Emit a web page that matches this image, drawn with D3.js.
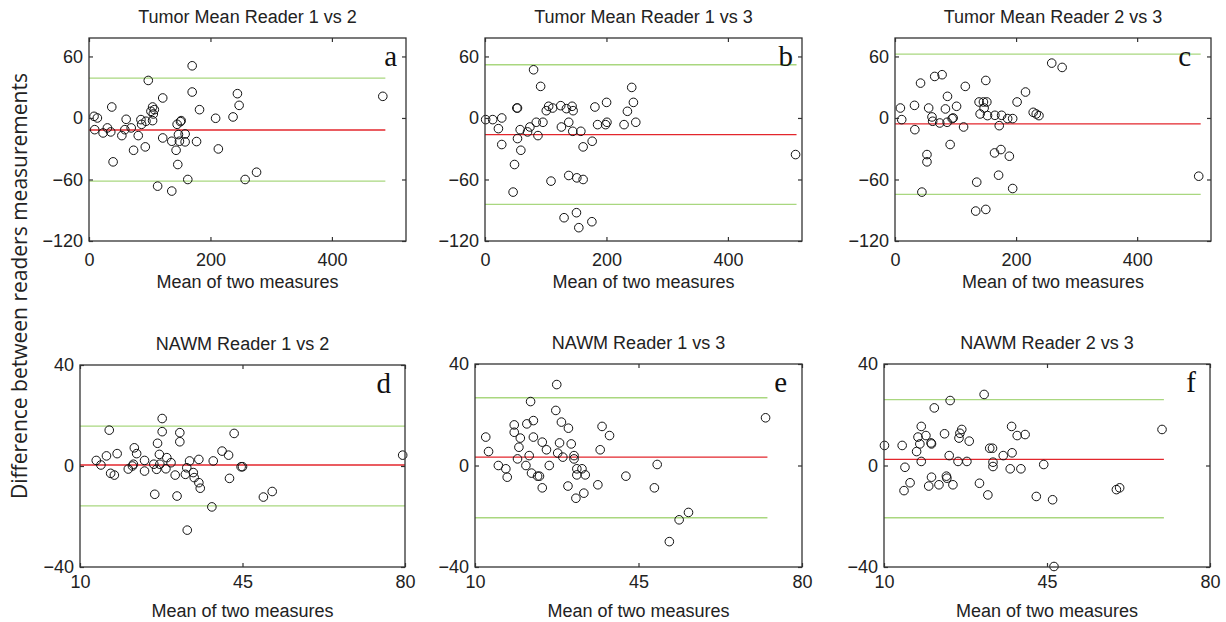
<!DOCTYPE html>
<html>
<head>
<meta charset="utf-8">
<script src="https://cdnjs.cloudflare.com/ajax/libs/d3/7.8.5/d3.min.js"></script>
<style>
  body { margin: 0; background: #fff; }
  text { font-family: Arial, "Liberation Sans", sans-serif; fill: #222; }
  .tick text { font-size: 18px; }
  .title, .xlabel { font-size: 18px; }
  .ylabel { font-family: "Open Sans", sans-serif; font-size: 21px; }
  .letter { font-family: "Liberation Serif", "Times New Roman", serif; font-size: 29px; fill: #111; }
</style>
</head>
<body>
<script>

// titles of the six panels and their letters
var titles = ["Tumor Mean Reader 1 vs 2", "Tumor Mean Reader 1 vs 3", "Tumor Mean Reader 2 vs 3",
              "NAWM Reader 1 vs 2", "NAWM Reader 1 vs 3", "NAWM Reader 2 vs 3"];
var letters = ["a", "b", "c", "d", "e", "f"];

// [mean of two measures, difference]
var tumor12 = [[8.3,1.6],[13.8,0],[9.4,-11.4],[23.2,-14.6],[30.3,-9.7],[35.8,-13.6],[37.5,10.7],[39.7,-42.8],
  [54.1,-17.2],[59,-11.4],[61.2,-1.3],[69.5,-9.7],[73.4,-31.5],[81.1,-17.2],[85.5,-1.6],[86.6,-6.2],
  [92.7,-28.2],[93.8,-3.2],[97.6,36.6],[102,6.5],[104.7,10.7],[105.9,3.9],[107.6,8.1],[104.7,-2.6],
  [113,-66.5],[121.4,19.5],[121.4,-19.5],[136.3,-71.3],[136.3,-22.7],[143.4,-31.5],[146.2,-45.4],
  [145.1,-6.2],[147.3,-16.2],[148.9,-22.7],[150.6,-3.6],[151.7,-2.6],[158.3,-15.6],[158.3,-23.3],
  [162.7,-60],[169.9,50.9],[169.9,25.3],[177.1,-23],[182,8.1],[208.5,-0.3],[213,-30.2],[237.2,1],
  [244.4,23.7],[247.2,12.3],[257.1,-60],[275.9,-52.9],[483.8,21.1]];
var tumor13 = [[1.1,-1.6],[12.7,-1.6],[22.1,-10.4],[27.6,0],[27.6,-25.9],[48.6,-45.4],[46.3,-72.3],
  [52.4,9.7],[53.5,9.7],[53.5,-20.1],[57.9,-11.4],[59,-31.5],[70.1,-13.6],[73.9,-8.8],[80,47],
  [84.4,-4.2],[87.2,-17.2],[91.6,30.8],[95.4,-4.2],[100.9,7.1],[104.8,11.4],[111.4,9.7],[108.7,-61.6],
  [124.7,12],[125.8,-8.8],[130.2,-97.3],[134.1,9.1],[137.9,-56.1],[137.9,-4.2],[143.4,11.4],[145.1,7.1],
  [144.5,-13],[150.6,-92.4],[151.2,-58.4],[154.5,-107],[157.8,-13],[161.6,-28.2],[161.6,-60],
  [176.5,-22.7],[176,-101.2],[181,10.7],[185.4,-6.5],[198.6,-6.5],[200.8,-4.2],[200.2,15.2],
  [229,-6.5],[234.5,6.5],[241.6,29.8],[244.4,15.2],[248.3,-4.2],[511.4,-35.7]];
var tumor23 = [[8.9,9.7],[11.1,-1.6],[32.2,12.3],[32.8,-11.4],[42.2,34],[44.4,-72.3],[52.8,-35.7],
  [52.8,-42.8],[55.6,9.7],[61.1,1],[62.2,-3.2],[65.6,40.5],[73.9,-4.9],[77.8,42.2],[83.3,8.8],
  [86.7,21.1],[86.1,-4.2],[91.1,-25.9],[94.4,-0.6],[96.1,0],[101.7,11.4],[113.3,-8.8],[116.1,30.8],
  [133.3,-90.8],[135,-62.6],[138.9,15.6],[140.6,3.9],[146.1,15.6],[147.2,9.7],[150,36.6],[150,-89.2],
  [151.7,15.6],[152.8,2.3],[164.4,-34.1],[165,2.6],[171.1,-55.8],[172.2,-7.5],[175,-30.8],[176.1,2.6],
  [186.1,-0.6],[188.9,-37.3],[194.4,-0.6],[194.4,-68.8],[201.7,15.6],[215.6,25.3],[228.3,5.5],
  [233.3,3.9],[237.8,2.3],[258.9,53.5],[276.1,49.3],[501.7,-56.8]];
var nawm12 = [[13.5,2.2],[14.5,0.4],[15.7,4],[16.3,14.2],[16.6,-2.9],[17.4,-3.6],[18,4.9],[20.4,-1.2],
  [21.3,0],[21.5,0.7],[21.7,7.2],[22.2,4.9],[23.9,2.2],[23.9,-2],[25.9,0.7],[26.1,-11.2],[26.7,9],
  [27.1,4.6],[27.2,0.7],[26.5,-1.3],[27.7,18.8],[27.7,13.6],[28.7,3.3],[28.5,-1.1],[29.6,1.3],
  [30.5,-3.6],[30.9,-11.9],[31.5,13.2],[31.5,9.6],[32.7,-3.3],[33,-0.7],[33.1,-25.4],[33.6,2],
  [34.4,-2.6],[34.6,-4.6],[35.6,2.6],[35.6,-6.6],[35.9,-8.8],[38.4,-16.2],[38.7,2],[40.6,5.9],
  [42,4.3],[42.2,-4.9],[43.2,12.9],[44.7,-0.3],[45,-0.3],[49.5,-12.3],[51.4,-10.1],[79.5,4.3]];
var nawm13 = [[12.3,11.2],[12.9,5.5],[15,0],[16.6,-1.3],[16.9,-4.6],[18.4,16],[18.4,13.1],[19.1,2.6],
  [19.4,7.2],[19.7,10.8],[20.9,0],[21.1,16.4],[21.6,3.9],[21.9,25.2],[22.1,-3],[22.5,17.7],[22.5,11.2],
  [23.4,-4.2],[23.8,-4.2],[24.4,9.2],[24.4,-8.8],[25.3,6.2],[25.9,0],[27.3,21.7],[27.5,31.9],[27.7,4.9],
  [28.1,8.9],[28.5,17.1],[28.8,3.3],[29.9,-8.1],[30,14.7],[30.6,8.5],[31.2,3.9],[31.2,2.6],[31.6,-12.9],
  [31.8,-1.3],[31.8,-3.7],[32.9,-1.3],[33.3,-10.9],[33.6,-3.7],[36.3,-7.6],[36.8,6.2],[37.2,15.4],
  [38.8,11.8],[42.3,-4.2],[48.4,-8.8],[49,0.4],[51.6,-30],[53.7,-21.4],[55.7,-18.5],[72.2,18.8]];
var nawm23 = [[10.1,7.9],[13.9,7.9],[14.3,-9.9],[14.5,-0.7],[15.6,-6.8],[17,5.5],[17.3,11.2],[17.7,8.5],
  [18,15.4],[18,1.6],[19,11.8],[19.6,-8.1],[20.1,8.9],[20.2,8.5],[20.2,-4.6],[20.8,22.7],[21.8,-7.6],
  [23,12.5],[23.4,-4.2],[23.5,-5],[24,3.9],[24.2,25.6],[24.8,-7.6],[25.9,1.6],[26.1,10.8],[26.3,12.7],
  [26.7,14.2],[27.8,1.6],[28.3,9.6],[30.5,-7],[31.5,28],[32.3,-11.6],[32.7,6.8],[33.3,6.8],[33.4,1.3],
  [33.4,-0.4],[35.6,3.9],[37.1,-1.3],[37.4,15.4],[37.5,5],[38.6,11.8],[39.4,-1.3],[40.3,12.2],
  [42.7,-12.2],[44.3,0.4],[46.2,-13.5],[46.5,-39.8],[59.9,-9.5],[60.6,-8.8],[69.7,14.2]];

// mean difference (red) and limits of agreement (green), and where those lines stop
var meanDiff   = [-11.7, -16.2, -5.8, 0.4, 3.3, 2.4];
var upperLimit = [38.9, 51.9, 62.3, 15.8, 26.7, 26.0];
var lowerLimit = [-61.6, -84.3, -74.6, -15.8, -20.6, -20.6];
var lineEnd    = [488, 513, 505, 80, 72.6, 70.1];

// axes
var tumorXTicks = [0, 200, 400],  tumorYTicks = [-120, -60, 0, 60];
var nawmXTicks  = [10, 45, 80],   nawmYTicks  = [-40, 0, 40];
var tumorXDomain = [0, 522], tumorYDomain = [-120, 78];
var nawmXDomain  = [10, 80], nawmYDomain  = [-40, 40];

var series = [tumor12, tumor13, tumor23, nawm12, nawm13, nawm23];

// where each panel box sits on the page
var frames = [
  {left: 89,  right: 406,  top: 38,  bottom: 241, letterDx: -9,  xPad: 12},
  {left: 485, right: 802,  top: 38,  bottom: 241, letterDx: -9,  xPad: 12},
  {left: 895, right: 1211, top: 38,  bottom: 241, letterDx: -20, xPad: 12},
  {left: 80,  right: 405,  top: 365, bottom: 567, letterDx: -14, xPad: 8},
  {left: 475, right: 802,  top: 364, bottom: 567, letterDx: -15, xPad: 8},
  {left: 884, right: 1210, top: 364, bottom: 567, letterDx: -14, xPad: 8}
];

var svg = d3.select("body").append("svg")
    .attr("width", 1226)
    .attr("height", 622);

// common y label
svg.append("text")
    .attr("class", "ylabel")
    .attr("transform", "translate(27,286) rotate(-90)")
    .attr("text-anchor", "middle")
    .text("Difference between readers measurements");

series.forEach(function(data, i) {
  var f = frames[i];
  var tumor = i < 3;

  var x = d3.scaleLinear()
      .domain(tumor ? tumorXDomain : nawmXDomain)
      .range([f.left, f.right]);
  var y = d3.scaleLinear()
      .domain(tumor ? tumorYDomain : nawmYDomain)
      .range([f.bottom, f.top]);
  var xt = tumor ? tumorXTicks : nawmXTicks;
  var yt = tumor ? tumorYTicks : nawmYTicks;

  var g = svg.append("g");

  // limits of agreement
  [upperLimit[i], lowerLimit[i]].forEach(function(v) {
    g.append("line")
        .attr("x1", x.range()[0]).attr("x2", x(lineEnd[i]))
        .attr("y1", y(v)).attr("y2", y(v))
        .attr("stroke", "#a9d77f")
        .attr("stroke-width", 1.3);
  });

  // mean difference
  g.append("line")
      .attr("x1", x.range()[0]).attr("x2", x(lineEnd[i]))
      .attr("y1", y(meanDiff[i])).attr("y2", y(meanDiff[i]))
      .attr("stroke", "#e3262c")
      .attr("stroke-width", 1.4);

  // points
  g.selectAll(".pt")
      .data(data)
    .enter().append("circle")
      .attr("class", "pt")
      .attr("cx", function(d) { return x(d[0]); })
      .attr("cy", function(d) { return y(d[1]); })
      .attr("r", 4.3)
      .attr("fill", "none")
      .attr("stroke", "#111")
      .attr("stroke-width", 1);

  // axes, ticks pointing inward on all four sides
  var axes = [
    {ax: d3.axisBottom(x).tickValues(xt).tickPadding(f.xPad), t: "translate(0," + f.bottom + ")", lab: true},
    {ax: d3.axisTop(x).tickValues(xt), t: "translate(0," + f.top + ")", lab: false},
    {ax: d3.axisLeft(y).tickValues(yt).tickPadding(6), t: "translate(" + f.left + ",0)", lab: true},
    {ax: d3.axisRight(y).tickValues(yt), t: "translate(" + f.right + ",0)", lab: false}
  ];
  axes.forEach(function(a) {
    a.ax.tickSizeInner(-4).tickSizeOuter(0);
    if (!a.lab) a.ax.tickFormat("");
    var ag = g.append("g").attr("transform", a.t).call(a.ax);
    ag.select(".domain").remove();
    ag.selectAll(".tick line").attr("stroke", "#333").attr("stroke-width", 1.2);
    ag.selectAll(".tick text").attr("fill", "#222").style("font-family", "Arial, 'Liberation Sans', sans-serif");
  });

  // frame
  g.append("rect")
      .attr("x", f.left).attr("y", f.top)
      .attr("width", f.right - f.left).attr("height", f.bottom - f.top)
      .attr("fill", "none")
      .attr("stroke", "#333")
      .attr("stroke-width", 1.3);

  // title
  g.append("text")
      .attr("class", "title")
      .attr("x", (f.left + f.right) / 2)
      .attr("y", f.top - 15)
      .attr("text-anchor", "middle")
      .text(titles[i]);

  // x label
  g.append("text")
      .attr("class", "xlabel")
      .attr("x", (f.left + f.right) / 2)
      .attr("y", f.bottom + (tumor ? 47 : 50))
      .attr("text-anchor", "middle")
      .text("Mean of two measures");

  // panel letter
  g.append("text")
      .attr("class", "letter")
      .attr("x", f.right + f.letterDx)
      .attr("y", f.top + 28)
      .attr("text-anchor", "end")
      .text(letters[i]);
});
</script>
</body>
</html>
